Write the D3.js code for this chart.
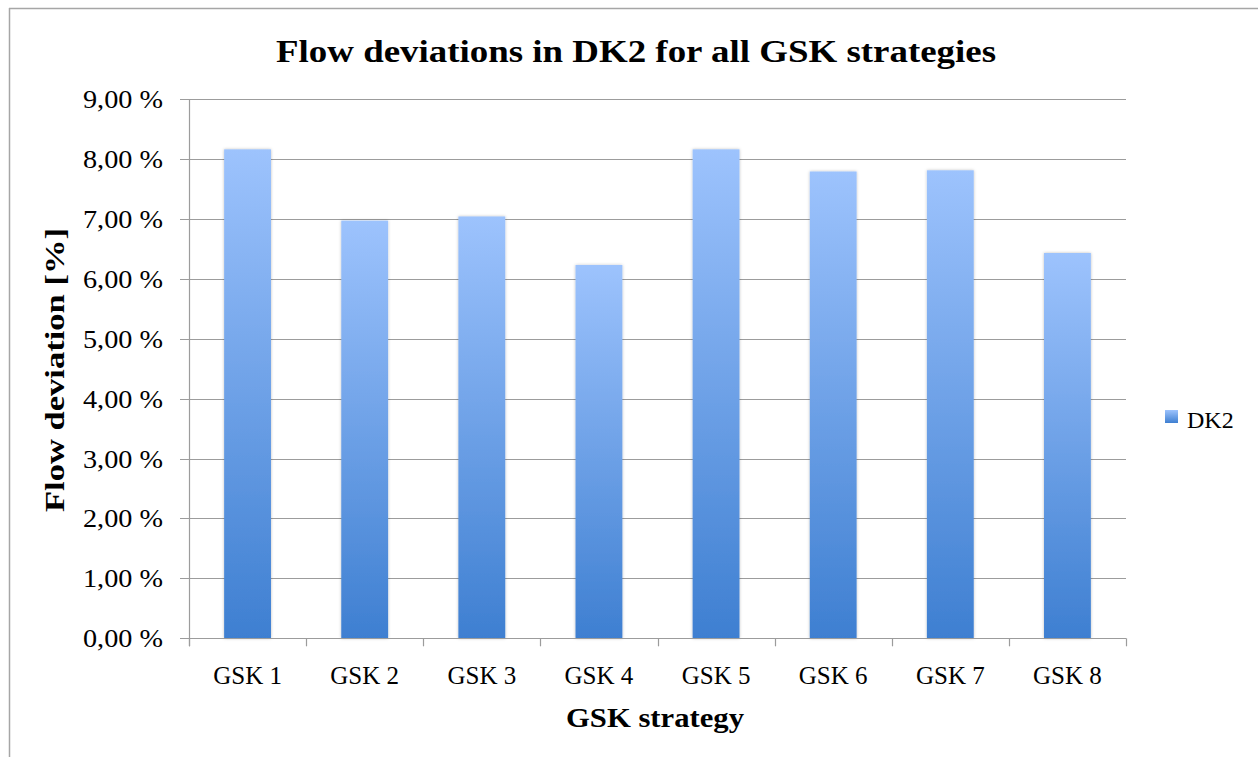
<!DOCTYPE html>
<html>
<head>
<meta charset="utf-8">
<script src="https://cdn.jsdelivr.net/npm/d3@7"></script>
<style>
  html, body { margin: 0; padding: 0; background: #fff; }
  svg { display: block; }
  text { font-family: "Liberation Serif", "Times New Roman", serif; fill: #000; }
</style>
</head>
<body>
<svg id="chart" width="1258" height="757"></svg>
<script>
const categories = ["GSK 1", "GSK 2", "GSK 3", "GSK 4", "GSK 5", "GSK 6", "GSK 7", "GSK 8"];
const dk2Values = [8.16, 6.97, 7.04, 6.23, 8.16, 7.79, 7.81, 6.43];
const yTicks = [0, 1, 2, 3, 4, 5, 6, 7, 8, 9];
const seriesName = "DK2";
const titleText = "Flow deviations in DK2 for all GSK strategies";
const xTitle = "GSK strategy";
const yTitle = "Flow deviation [%]";

const svg = d3.select("#chart");
const W = 1258, H = 757;
const plot = { left: 189, right: 1126, top: 99, bottom: 638.3 };

// outer frame (top and left visible)
svg.append("line").attr("x1", 9).attr("x2", W).attr("y1", 8.5).attr("y2", 8.5)
  .attr("stroke", "#a6a6a6").attr("stroke-width", 1.5);
svg.append("line").attr("x1", 9.5).attr("x2", 9.5).attr("y1", 8).attr("y2", H)
  .attr("stroke", "#a6a6a6").attr("stroke-width", 1.5);

const x = d3.scaleBand().domain(categories).range([plot.left, plot.right]).paddingInner(0.6).paddingOuter(0.3);
const y = d3.scaleLinear().domain([0, 9]).range([plot.bottom, plot.top]);

const defs = svg.append("defs");
const grad = defs.append("linearGradient").attr("id", "barGrad")
  .attr("x1", 0).attr("y1", 0).attr("x2", 0).attr("y2", 1);
grad.append("stop").attr("offset", "0%").attr("stop-color", "#9dc3fd");
grad.append("stop").attr("offset", "100%").attr("stop-color", "#3e7fd1");
const f = defs.append("filter").attr("id", "shadow").attr("x", "-20%").attr("y", "-5%").attr("width", "140%").attr("height", "110%");
f.append("feDropShadow").attr("dx", 0).attr("dy", 0).attr("stdDeviation", 1.5)
  .attr("flood-color", "#000").attr("flood-opacity", 0.25);

const lgrad = defs.append("linearGradient").attr("id", "legGrad")
  .attr("x1", 0).attr("y1", 0).attr("x2", 0).attr("y2", 1);
lgrad.append("stop").attr("offset", "0%").attr("stop-color", "#9dc3fd");
lgrad.append("stop").attr("offset", "100%").attr("stop-color", "#3e7fd1");

// gridlines
svg.append("g").selectAll("line").data(yTicks).join("line")
  .attr("x1", plot.left - 9).attr("x2", plot.right)
  .attr("y1", d => Math.round(y(d)) + 0.5).attr("y2", d => Math.round(y(d)) + 0.5)
  .attr("stroke", "#9c9c9c").attr("stroke-width", 1.2);

// y axis line
svg.append("line").attr("x1", plot.left + 0.5).attr("x2", plot.left + 0.5)
  .attr("y1", plot.top).attr("y2", plot.bottom + 8)
  .attr("stroke", "#9c9c9c").attr("stroke-width", 1.2);

// x tick marks at category boundaries
const bounds = d3.range(categories.length + 1).map(i => plot.left + i * (plot.right - plot.left) / categories.length);
svg.append("g").selectAll("line").data(bounds).join("line")
  .attr("x1", d => Math.round(d) + 0.5).attr("x2", d => Math.round(d) + 0.5)
  .attr("y1", plot.bottom).attr("y2", plot.bottom + 8)
  .attr("stroke", "#9c9c9c").attr("stroke-width", 1.2);

// bars
svg.append("g").selectAll("rect").data(dk2Values).join("rect")
  .attr("x", (d, i) => x(categories[i]))
  .attr("width", x.bandwidth())
  .attr("y", d => y(d))
  .attr("height", d => y(0) - y(d))
  .attr("fill", "url(#barGrad)")
  .attr("filter", "url(#shadow)");

// redraw baseline over bars
svg.append("line").attr("x1", plot.left - 9).attr("x2", plot.right)
  .attr("y1", Math.round(y(0)) + 0.5).attr("y2", Math.round(y(0)) + 0.5)
  .attr("stroke", "#9c9c9c").attr("stroke-width", 1.2);

// y tick labels
const fmt = d => d3.format(".2f")(d).replace(".", ",") + " %";
svg.append("g").selectAll("text").data(yTicks).join("text")
  .attr("x", 163).attr("y", d => y(d) + 9)
  .attr("text-anchor", "end").attr("font-size", 25)
  .attr("textLength", 80).attr("lengthAdjust", "spacingAndGlyphs")
  .text(fmt);

// x tick labels
svg.append("g").selectAll("text").data(categories).join("text")
  .attr("x", d => x(d) + x.bandwidth() / 2).attr("y", 684)
  .attr("text-anchor", "middle").attr("font-size", 25)
  .text(d => d);

// title
svg.append("text").attr("x", 636).attr("y", 62).attr("text-anchor", "middle")
  .attr("font-size", 32).attr("font-weight", "bold")
  .attr("textLength", 720).attr("lengthAdjust", "spacingAndGlyphs")
  .text(titleText);

// x title
svg.append("text").attr("x", 655).attr("y", 727).attr("text-anchor", "middle")
  .attr("font-size", 27).attr("font-weight", "bold")
  .attr("textLength", 178).attr("lengthAdjust", "spacingAndGlyphs")
  .text(xTitle);

// y title
svg.append("text").attr("transform", "translate(64,370) rotate(-90)")
  .attr("text-anchor", "middle").attr("font-size", 27).attr("font-weight", "bold")
  .attr("textLength", 284).attr("lengthAdjust", "spacingAndGlyphs")
  .text(yTitle);

// legend
svg.append("rect").attr("x", 1165).attr("y", 410).attr("width", 13).attr("height", 13)
  .attr("fill", "url(#legGrad)");
svg.append("text").attr("x", 1187).attr("y", 428).attr("font-size", 24).text(seriesName);
</script>
</body>
</html>
